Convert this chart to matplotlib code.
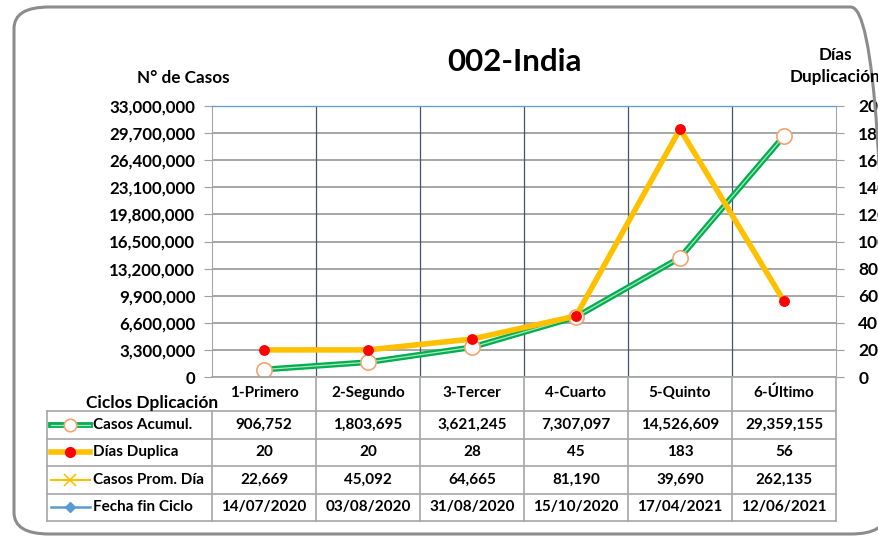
import matplotlib.pyplot as plt
from matplotlib.patches import FancyBboxPatch
from matplotlib.ticker import FuncFormatter, MultipleLocator

plt.rcParams['font.family'] = ['Lato', 'DejaVu Sans']
plt.rcParams['font.weight'] = 'bold'

# data
ciclos = ['1-Primero', '2-Segundo', '3-Tercer', '4-Cuarto', '5-Quinto', '6-Último']
casos_acum = [906752, 1803695, 3621245, 7307097, 14526609, 29359155]
dias_dup = [20, 20, 28, 45, 183, 56]
casos_prom = [22669, 45092, 64665, 81190, 39690, 262135]
fecha_fin = ['14/07/2020', '03/08/2020', '31/08/2020', '15/10/2020', '17/04/2021', '12/06/2021']
series_names = ['Casos Acumul.', 'Días Duplica', 'Casos Prom. Día', 'Fecha fin Ciclo']

W, H = 879, 537
fig = plt.figure(figsize=(W / 100, H / 100), dpi=100)

# outer rounded frame (runs past the right edge like the original)
fig.patches.append(FancyBboxPatch((14 / W, 3 / H), 872 / W, 527 / H,
                                  boxstyle='round,pad=0,rounding_size=0.04',
                                  transform=fig.transFigure, fill=False,
                                  edgecolor='#8c8c8c', linewidth=2.2))

# plot area in pixels
L, R, T, B = 212, 836, 106, 377
n = len(ciclos)
colw = (R - L) / n
ax = fig.add_axes([L / W, 1 - B / H, (R - L) / W, (B - T) / H])
ax.set_xlim(0, n)
ax.set_ylim(0, 33000000)
ax.yaxis.set_major_locator(MultipleLocator(3300000))
ax.yaxis.set_major_formatter(FuncFormatter(lambda v, p: f'{v:,.0f}'))
ax.tick_params(axis='y', labelsize=12.2, length=6, color='#a0a0a0', pad=6)
ax.set_xticks([])
ax.grid(axis='y', color='#a6a6a6', linewidth=1.4)
for k in range(1, n):
    ax.axvline(k, color='#44546a', linewidth=0.9)
for s in ['right', 'bottom']:
    ax.spines[s].set_visible(False)
ax.spines['left'].set_color('#a6a6a6')
ax.spines['top'].set_color('#5b9bd5')
ax.spines['top'].set_linewidth(0.9)
ax.set_axisbelow(True)

xs = [i + 0.5 for i in range(n)]
ax.plot(xs, casos_acum, color='#00b050', linewidth=4.2, zorder=3)
ax.plot(xs, casos_acum, color='#b7e1c4', linewidth=0.9, zorder=3)
ax.plot(xs, casos_acum, linestyle='none', marker='o', markersize=11,
        markerfacecolor='white', markeredgecolor='#f4a470', markeredgewidth=1.2, zorder=4)

ax2 = ax.twinx()
ax2.set_ylim(0, 200)
ax2.yaxis.set_major_locator(MultipleLocator(20))
ax2.tick_params(axis='y', labelsize=12.5, length=6, color='#a0a0a0', pad=10)
for s in ['left', 'top', 'bottom']:
    ax2.spines[s].set_visible(False)
ax2.spines['right'].set_color('#a6a6a6')
ax2.plot(xs, dias_dup, color='#ffc000', linewidth=4, zorder=3)
ax2.plot(xs, dias_dup, linestyle='none', marker='o', markersize=6.8,
         markerfacecolor='#ff0000', markeredgecolor='#ff0000', zorder=4)

# texts
fig.text(515 / W, 1 - 62 / H, '002-India', ha='center', va='center', fontsize=22.5)
fig.text(183 / W, 1 - 78 / H, 'N° de Casos', ha='center', va='center', fontsize=12.3)
fig.text(835 / W, 1 - 55 / H, 'Días', ha='center', va='center', fontsize=12.3)
fig.text(835 / W, 1 - 77 / H, 'Duplicación', ha='center', va='center', fontsize=12.3)

# table overlay in pixel coordinates
tb = fig.add_axes([0, 0, 1, 1])
tb.set_xlim(0, W)
tb.set_ylim(H, 0)
tb.axis('off')
tb.patch.set_alpha(0)

lc = '#a6a6a6'
tab_left, hdr_y, row0 = 47, 393, 411
rowh = 27.5
nrows = len(series_names)
tab_bottom = row0 + rowh * nrows
tb.plot([L, R], [B, B], color=lc, linewidth=1.3)
for k in range(nrows + 1):
    y = row0 + rowh * k
    tb.plot([tab_left, R], [y, y], color=lc, linewidth=1.2)
tb.plot([tab_left, tab_left], [row0, tab_bottom], color=lc, linewidth=1.2)
tb.plot([L, L], [row0, tab_bottom], color=lc, linewidth=1.2)
for k in range(1, n + 1):
    x = L + colw * k
    tb.plot([x, x], [B, tab_bottom], color=lc, linewidth=1.2)

tb.text(152, 403, 'Ciclos Dplicación', ha='center', va='center', fontsize=12.5)
for i, c in enumerate(ciclos):
    tb.text(L + colw * (i + 0.5), hdr_y, c, ha='center', va='center', fontsize=11)

rows = [[f'{v:,}' for v in casos_acum],
        [str(v) for v in dias_dup],
        [f'{v:,}' for v in casos_prom],
        fecha_fin]
for r, vals in enumerate(rows):
    yc = row0 + rowh * (r + 0.5)
    tb.text(93, yc, series_names[r], ha='left', va='center', fontsize=11)
    for i, v in enumerate(vals):
        tb.text(L + colw * (i + 0.5), yc, v, ha='center', va='center', fontsize=11)

# legend keys
ky = [row0 + rowh * (r + 0.5) for r in range(nrows)]
tb.plot([51, 90], [ky[0], ky[0]], color='#00b050', linewidth=4.2)
tb.plot([51, 90], [ky[0], ky[0]], color='#b7e1c4', linewidth=0.9)
tb.plot([70.5], [ky[0]], marker='o', markersize=9, markerfacecolor='white',
        markeredgecolor='#f4a470', markeredgewidth=1.2)
tb.plot([51, 90], [ky[1], ky[1]], color='#ffc000', linewidth=4)
tb.plot([70.5], [ky[1]], marker='o', markersize=7, color='#ff0000')
tb.plot([51, 90], [ky[2], ky[2]], color='#ffc000', linewidth=1.5)
tb.plot([70.5], [ky[2]], marker='x', markersize=8, color='#ffc000', markeredgewidth=1.2)
tb.plot([51, 90], [ky[3], ky[3]], color='#5b9bd5', linewidth=1.8)
tb.plot([70.5], [ky[3]], marker='D', markersize=5, color='#5b9bd5')

fig.savefig('out.png', dpi=100)
